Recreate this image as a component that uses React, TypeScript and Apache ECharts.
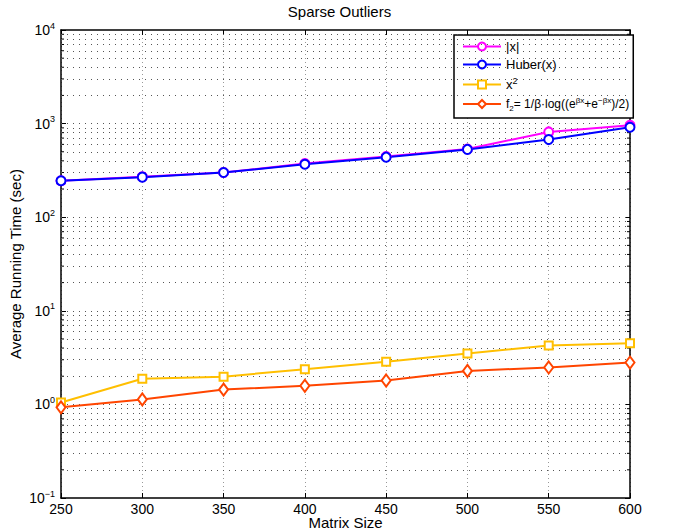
import React, { useEffect, useRef } from "react";
import * as echarts from "echarts";

const matrixSizes = [250, 300, 350, 400, 450, 500, 550, 600];
const absValues = [245, 270, 300, 375, 445, 535, 815, 960];
const huberValues = [245, 268, 300, 368, 438, 530, 675, 915];
const squareValues = [1.05, 1.88, 1.98, 2.38, 2.85, 3.5, 4.25, 4.5];
const f2Values = [0.93, 1.13, 1.44, 1.58, 1.8, 2.28, 2.48, 2.8];

const seriesNames = ["|x|", "Huber(x)", "x^2", "f2"];
const decadeExponents = [-1, 0, 1, 2, 3];
const minorMultipliers = [1, 2, 3, 4, 5, 6, 7, 8, 9];

const FONT = "'Liberation Sans', Arial, Helvetica, sans-serif";

export default function App() {
  const ref = useRef<HTMLDivElement>(null);
  useEffect(() => {
    if (!ref.current) return;
    const chart = echarts.init(ref.current, undefined, { renderer: "svg" });

    const gridValues: number[] = [];
    decadeExponents.forEach((e) => {
      minorMultipliers.forEach((m) => {
        const v = +(m * Math.pow(10, e)).toPrecision(6);
        if (v > 0.1 && v < 10000) gridValues.push(v);
      });
    });
    const minorTickValues = gridValues.filter((v) => {
      const l = Math.log10(v);
      return Math.abs(l - Math.round(l)) > 1e-6;
    });

    const mk = (vals: number[]) => vals.map((v, i) => [matrixSizes[i], v]);

    const tick = { fontSize: 14, fontFamily: FONT, color: "#000" };
    const label = { fontSize: 15, fontFamily: FONT, color: "#000" };
    const sup = { fontSize: 9, fontFamily: FONT, color: "#000", padding: [0, 0, 9, 0] };

    const legendRich = {
      b: { fontSize: 13, fontFamily: FONT, color: "#000" },
      c: { fontSize: 12, fontFamily: FONT, color: "#000" },
      sp: { fontSize: 9, fontFamily: FONT, color: "#000", padding: [0, 0, 8, 0] },
      sq: { fontSize: 8, fontFamily: FONT, color: "#000", padding: [0, 0, 8, 0] },
      sb: { fontSize: 8, fontFamily: FONT, color: "#000", padding: [8, 0, 0, 0] },
    };
    const legendText: Record<string, string> = {
      "|x|": "{b||x|}",
      "Huber(x)": "{b|Huber(x)}",
      "x^2": "{b|x}{sp|2}",
      f2: "{c|f}{sb|2}{c|= 1/β·log((e}{sq|βx}{c|+e}{sq|−βx}{c|)/2)}",
    };

    const lineSeries = (name: string, vals: number[], color: string, symbol: string, size: any) => ({
      name,
      type: "line",
      data: mk(vals),
      symbol,
      symbolSize: size,
      lineStyle: { color, width: 2 },
      itemStyle: { color, borderColor: color, borderWidth: 2 },
      z: 5,
    });

    chart.setOption({
      animation: false,
      backgroundColor: "#fff",
      title: {
        text: "Sparse Outliers",
        left: "center",
        top: 0,
        padding: 4,
        textStyle: { fontSize: 15, fontWeight: "normal", fontFamily: FONT, color: "#000" },
      },
      legend: {
        orient: "vertical",
        left: 454,
        top: 35,
        data: seriesNames,
        backgroundColor: "#fff",
        borderColor: "#000",
        borderWidth: 1.5,
        padding: [5, 4, 6, 8],
        itemWidth: 38,
        itemHeight: 10,
        itemGap: 5,
        formatter: (n: string) => legendText[n],
        textStyle: { rich: legendRich, fontFamily: FONT, fontSize: 13, color: "#000" },
      },
      grid: { left: 61, right: 49, top: 30, bottom: 33, containLabel: false, outerBoundsMode: "none" },
      xAxis: [
        {
          type: "value",
          min: 250,
          max: 600,
          interval: 50,
          name: "Matrix Size",
          nameLocation: "middle",
          nameGap: 17,
          nameMoveOverlap: false,
          nameTextStyle: { ...label },
          axisLine: { show: true, lineStyle: { color: "#000", width: 1.5 } },
          axisTick: { inside: true, length: 5, lineStyle: { color: "#000" } },
          axisLabel: { ...tick, margin: 4 },
          splitLine: { show: true, lineStyle: { color: "#999", type: [1, 3], width: 1 } },
        },
        {
          type: "value",
          position: "top",
          min: 250,
          max: 600,
          interval: 50,
          axisLine: { show: true, lineStyle: { color: "#000", width: 1.5 } },
          axisTick: { inside: true, length: 5, lineStyle: { color: "#000" } },
          axisLabel: { show: false },
          splitLine: { show: false },
        },
      ],
      yAxis: [
        {
          type: "log",
          logBase: 10,
          min: 0.1,
          max: 10000,
          name: "Average Running Time (sec)",
          nameLocation: "middle",
          nameGap: 38,
          nameMoveOverlap: false,
          nameRotate: 90,
          nameTextStyle: { ...label },
          axisLine: { show: true, lineStyle: { color: "#000", width: 1.5 } },
          axisTick: { inside: true, length: 5, lineStyle: { color: "#000" } },
          axisLabel: {
            margin: 6,
            formatter: (v: number) => {
              const e = Math.round(Math.log10(v));
              return "{b|10}{s|" + (e < 0 ? "−" + -e : "" + e) + "}";
            },
            rich: { b: tick, s: sup },
          },
          splitLine: { show: false },
        },
        {
          type: "log",
          logBase: 10,
          min: 0.1,
          max: 10000,
          position: "right",
          axisLine: { show: true, lineStyle: { color: "#000", width: 1.5 } },
          axisTick: { inside: true, length: 5, lineStyle: { color: "#000" } },
          axisLabel: { show: false },
          splitLine: { show: false },
        },
      ],
      series: [
        {
          name: "grid",
          type: "custom",
          silent: true,
          z: 1,
          data: minorTickValues.map((v) => [250, v]),
          renderItem: (params: any, api: any) => {
            const v = api.value(1);
            const p1 = api.coord([250, v]);
            const p2 = api.coord([600, v]);
            return {
              type: "group",
              children: [
                { type: "line", shape: { x1: p1[0], y1: p1[1], x2: p1[0] + 3, y2: p1[1] }, style: { stroke: "#000", lineWidth: 1 } },
                { type: "line", shape: { x1: p2[0] - 3, y1: p2[1], x2: p2[0], y2: p2[1] }, style: { stroke: "#000", lineWidth: 1 } },
              ],
            };
          },
          markLine: {
            silent: true,
            symbol: "none",
            label: { show: false },
            lineStyle: { color: "#555", type: [1, 5], width: 1 },
            data: gridValues.map((v) => ({ yAxis: v })),
          },
        },
        lineSeries("|x|", absValues, "#ff00ff", "emptyCircle", 9),
        lineSeries("Huber(x)", huberValues, "#0000ff", "emptyCircle", 9),
        lineSeries("x^2", squareValues, "#ffbf00", "emptyRect", 8),
        lineSeries("f2", f2Values, "#ff4500", "emptyDiamond", [9, 12]),
      ],
    });
    return () => chart.dispose();
  }, []);
  return <div ref={ref} style={{ position: "fixed", left: 0, top: 0, width: 679, height: 531 }} />;
}
